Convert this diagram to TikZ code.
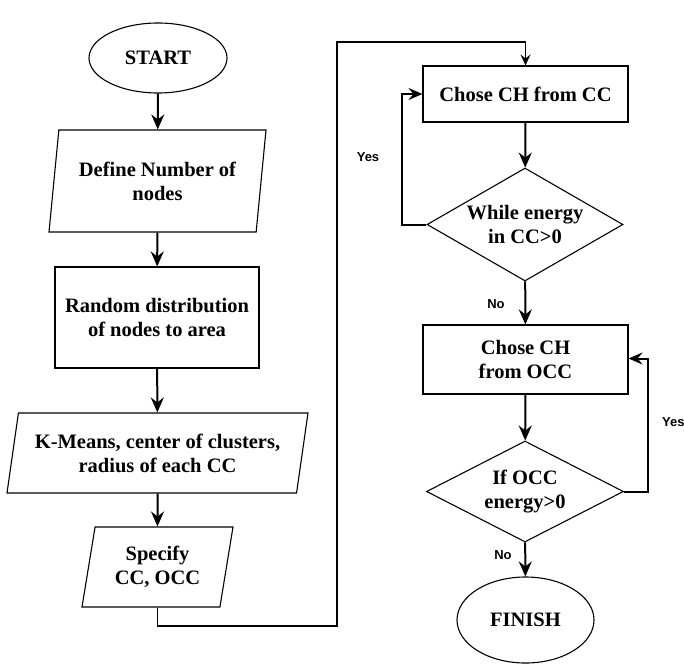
\documentclass[tikz,border=0pt]{standalone}
\usepackage{fontspec}
\setmainfont{Liberation Serif}
\newfontfamily\labelfont{Liberation Sans}
\usetikzlibrary{shapes.geometric,arrows.meta}

\tikzset{
	boxtext/.style={font=\fontsize{20.5}{24}\selectfont\bfseries, align=center, inner sep=2pt},
	terminal/.style={boxtext, draw, ellipse, line width=1.1pt},
	process/.style={boxtext, draw, rectangle, line width=1.1pt},
	inout/.style={boxtext, draw, trapezium, trapezium stretches body=true, line width=1.1pt},
	decision/.style={boxtext, draw, diamond, aspect=1.7, inner sep=0pt, line width=1.1pt},
	flow/.style={-{Stealth[length=15pt,width=13pt,inset=5pt]}, line width=2pt},
	loopflow/.style={-{Stealth[length=14pt,width=12pt,inset=5pt]}, line width=2pt},
	jump/.style={-{Stealth[length=11pt,width=10pt,inset=4pt]}, line width=1.2pt},
	answer/.style={font=\labelfont\bfseries\fontsize{13}{15}\selectfont, inner sep=0pt}
}

\begin{document}
\begin{tikzpicture}[x=1pt, y=-1pt]
	\clip (0,0) rectangle (684,666);
	\useasboundingbox (0,0) rectangle (684,666);

	% left column
	\node[terminal, minimum width=138, minimum height=70] (start) at (158,58) {START};
	\node[inout, trapezium left angle=77, trapezium right angle=103,
		minimum width=217, minimum height=102] (define) at (157.5,181) {Define Number of\\nodes};
	\node[process, minimum width=204, minimum height=101] (random) at (157,317.5) {Random distribution\\of nodes to area};
	\node[inout, trapezium left angle=75, trapezium right angle=105,
		minimum width=301, minimum height=80] (kmeans) at (157.5,453) {K-Means, center of clusters,\\radius of each CC};
	\node[inout, trapezium left angle=74, trapezium right angle=106,
		minimum width=151, minimum height=80] (specify) at (157.5,567) {Specify\\CC, OCC};

	% right column
	\node[process, minimum width=205, minimum height=56] (chosecc) at (525.5,94) {Chose CH from CC};
	\node[decision, minimum width=196, minimum height=113] (whilecc) at (525,224.5) {While energy\\in CC>0};
	\node[process, minimum width=205, minimum height=69] (choseocc) at (525.5,359.5) {Chose CH\\from OCC};
	\node[decision, minimum width=197, minimum height=101] (ifocc) at (525,491.5) {If OCC\\energy>0};
	\node[terminal, minimum width=137, minimum height=86] (finish) at (525.5,620) {FINISH};

	% bends of the long connector
	\coordinate (bendlow) at (337,626);
	\coordinate (bendhigh) at (337,42);

	% arrows
	\draw[flow] (start) -- (define);
	\draw[flow] (define) -- (random);
	\draw[flow] (random) -- (kmeans);
	\draw[flow] (kmeans) -- (specify);
	\draw[jump] (specify.south) |- (bendlow) -- (bendhigh) -| (chosecc.north);
	\draw[flow] (chosecc) -- (whilecc);
	\draw[loopflow] (whilecc.west) -- ++(-24,0) |- (chosecc.west);
	\draw[flow] (whilecc) -- (choseocc);
	\draw[flow] (choseocc) -- (ifocc);
	\draw[loopflow] (ifocc.east) -- ++(24,0) |- ([yshift=1]choseocc.east);
	\draw[flow] (ifocc) -- (finish);

	% labels
	\node[answer] (yescc) at (368,157) {Yes};
	\node[answer] (nocc) at (496,304) {No};
	\node[answer, anchor=west] (yesocc) at (662,422) {Yes};
	\node[answer] (noocc) at (503,555) {No};
\end{tikzpicture}
\end{document}
